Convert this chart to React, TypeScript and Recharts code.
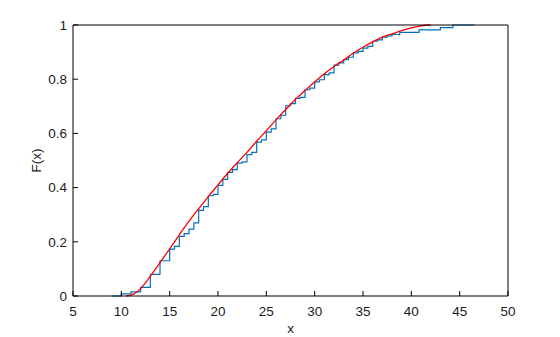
import { LineChart, Line, XAxis, YAxis } from 'recharts';

// empirical CDF (steps)
const ecdfX = [9, 10, 11, 12, 13, 14, 15, 15.5, 16, 16.5, 17, 17.5, 18, 18.5, 19, 19.5, 20, 20.5, 21, 21.5, 22, 22.5, 23, 23.5, 24, 24.5, 25, 25.5, 26, 26.5, 27, 27.5, 28, 28.5, 29, 29.5, 30, 30.5, 31, 31.5, 32, 32.5, 33, 33.5, 34, 34.5, 35, 35.5, 36, 36.5, 37, 37.5, 38, 38.8, 40.8, 43, 44.3, 46.5];
const ecdfY = [0, 0.008, 0.015, 0.032, 0.08, 0.13, 0.173, 0.183, 0.22, 0.23, 0.247, 0.27, 0.316, 0.33, 0.37, 0.375, 0.408, 0.43, 0.456, 0.466, 0.49, 0.495, 0.522, 0.53, 0.568, 0.576, 0.605, 0.617, 0.654, 0.667, 0.702, 0.71, 0.729, 0.733, 0.761, 0.767, 0.79, 0.798, 0.817, 0.823, 0.852, 0.86, 0.872, 0.881, 0.897, 0.903, 0.915, 0.921, 0.94, 0.945, 0.955, 0.96, 0.965, 0.973, 0.982, 0.99, 1, 1];

// fitted CDF
const fitX = [10.5, 11, 11.5, 12, 13, 14, 15, 16, 17, 18, 19, 20, 21, 22, 23, 24, 25, 26, 27, 28, 29, 30, 31, 32, 33, 34, 35, 36, 37, 38, 39, 40, 41, 42];
const fitY = [0, 0.003, 0.012, 0.028, 0.073, 0.123, 0.174, 0.226, 0.276, 0.322, 0.367, 0.41, 0.453, 0.492, 0.53, 0.571, 0.61, 0.65, 0.688, 0.725, 0.758, 0.79, 0.82, 0.847, 0.871, 0.896, 0.918, 0.938, 0.955, 0.967, 0.979, 0.989, 0.997, 1];

const xTicks = [5, 10, 15, 20, 25, 30, 35, 40, 45, 50];
const yTicks = [0, 0.2, 0.4, 0.6, 0.8, 1];

const ecdfData = ecdfX.map((x, i) => ({ x, y: ecdfY[i] }));
const fitData = fitX.map((x, i) => ({ x, y: fitY[i] }));

const font = 'Liberation Sans, Arial, sans-serif';
const tickStyle = { fill: '#1a1a1a', fontSize: 13.5, fontFamily: font };

export default function App() {
  return (
    <div style={{ position: 'absolute', left: 0, top: 0, fontFamily: font }}>
      <LineChart width={560} height={337} margin={{ top: 24, right: 51, bottom: 0, left: 0 }}>
        <XAxis
          dataKey="x"
          type="number"
          domain={[5, 50]}
          ticks={xTicks}
          allowDataOverflow
          height={41}
          tickSize={-5}
          tickMargin={15}
          stroke="#000"
          tick={tickStyle}
          label={{ value: 'x', position: 'insideBottom', offset: 4, fill: '#1a1a1a', fontSize: 13.5 }}
        />
        <XAxis
          xAxisId="top"
          orientation="top"
          type="number"
          domain={[5, 50]}
          ticks={xTicks}
          height={1}
          tickSize={-5}
          tick={false}
          stroke="#000"
        />
        <YAxis
          type="number"
          domain={[0, 1]}
          ticks={yTicks}
          width={73}
          tickSize={-5}
          tickMargin={11}
          stroke="#000"
          tick={tickStyle}
          label={{ value: 'F(x)', angle: -90, position: 'insideLeft', offset: 36, fill: '#1a1a1a', fontSize: 13.5, style: { textAnchor: 'middle' } }}
        />
        <YAxis
          yAxisId="right"
          orientation="right"
          type="number"
          domain={[0, 1]}
          ticks={yTicks}
          width={1}
          tickSize={-5}
          tick={false}
          stroke="#000"
        />
        <Line
          data={ecdfData}
          dataKey="y"
          type="stepAfter"
          stroke="#0072bd"
          strokeWidth={1.2}
          dot={false}
          isAnimationActive={false}
        />
        <Line
          data={fitData}
          dataKey="y"
          type="monotone"
          stroke="#ff0000"
          strokeWidth={1.3}
          dot={false}
          isAnimationActive={false}
        />
      </LineChart>
    </div>
  );
}
